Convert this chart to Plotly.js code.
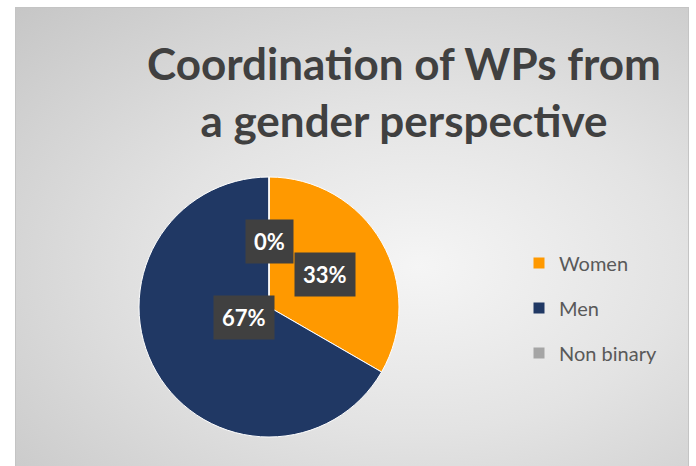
<!DOCTYPE html>
<html>
<head>
<meta charset="utf-8">
<script src="https://cdn.plot.ly/plotly-3.0.1.min.js"></script>
<style>
  html, body { margin: 0; padding: 0; background: #ffffff; }
  #frame {
    position: absolute; left: 15px; top: 7px; width: 672px; height: 470px;
    border: 1px solid #c4c4c4;
    background: radial-gradient(farthest-corner at 60% 55%, #f5f5f5 0%, #e3e3e3 45%, #c6c6c6 100%);
  }
  #chart { position: absolute; left: 0; top: 0; width: 696px; height: 466px; }
</style>
</head>
<body>
<div id="frame"></div>
<div id="chart"></div>
<script>
// datos
const labels = ["Women", "Men", "Non binary"];
const values = [1, 2, 0];
const colors = ["#FF9900", "#203864", "#A5A5A5"];

const W = 696, H = 466;
// pie box in px (centre 269,307 radius 130)
const pieBox = { x0: 139, x1: 399, y0: 177, y1: 437 };
const cx = (pieBox.x0 + pieBox.x1) / 2, cy = (pieBox.y0 + pieBox.y1) / 2;
const R = (pieBox.x1 - pieBox.x0) / 2;

const total = values.reduce((a, b) => a + b, 0);

const pie = {
    type: "pie",
    labels: labels,
    values: values,
    sort: false,
    direction: "clockwise",
    rotation: 0,
    marker: { colors: colors, line: { color: "#ffffff", width: 1 } },
    textinfo: "none",
    hoverinfo: "label+percent",
    showlegend: false,
    domain: { x: [pieBox.x0 / W, pieBox.x1 / W], y: [1 - pieBox.y1 / H, 1 - pieBox.y0 / H] }
};

// entradas de leyenda
const legendTraces = labels.map((lab, i) => ({
    type: "scatter",
    x: [null], y: [null],
    mode: "markers",
    name: lab,
    legendgroup: "g" + i,
    marker: { symbol: "square", size: 11, color: colors[i] },
    hoverinfo: "skip"
}));

// etiquetas de porcentaje en cajas oscuras
let cum = 0;
const annotations = values.map((v, i) => {
    const frac = v / total;
    const mid = (cum + frac / 2) * 2 * Math.PI;
    cum += frac;
    const r = 0.5 * R;
    const px = cx + r * Math.sin(mid);
    const py = cy - r * Math.cos(mid);
    return {
        x: px / W, y: 1 - py / H, xref: "paper", yref: "paper",
        text: Math.round(frac * 100) + "%",
        showarrow: false,
        font: { family: "Lato", size: 22, color: "#ffffff", weight: 700 },
        bgcolor: "#404040",
        borderpad: 8
    };
});

const layout = {
    width: W, height: H,
    margin: { l: 0, r: 0, t: 0, b: 0 },
    paper_bgcolor: "rgba(0,0,0,0)",
    plot_bgcolor: "rgba(0,0,0,0)",
    title: {
        text: "Coordination of WPs from<br>a gender perspective",
        font: { family: "Lato", size: 44, color: "#404040", weight: 700 },
        x: 404 / W, xanchor: "center", xref: "paper",
        y: 1 - 80 / H, yanchor: "top", yref: "container"
    },
    xaxis: { visible: false }, yaxis: { visible: false },
    showlegend: true,
    legend: {
        x: 519 / W, xanchor: "left", y: 1 - 308 / H, yanchor: "middle",
        font: { family: "Lato", size: 20, color: "#595959" },
        bgcolor: "rgba(0,0,0,0)",
        tracegroupgap: 16
    },
    annotations: annotations
};

Plotly.newPlot("chart", [pie].concat(legendTraces), layout, { displayModeBar: false, staticPlot: true });
</script>
</body>
</html>
